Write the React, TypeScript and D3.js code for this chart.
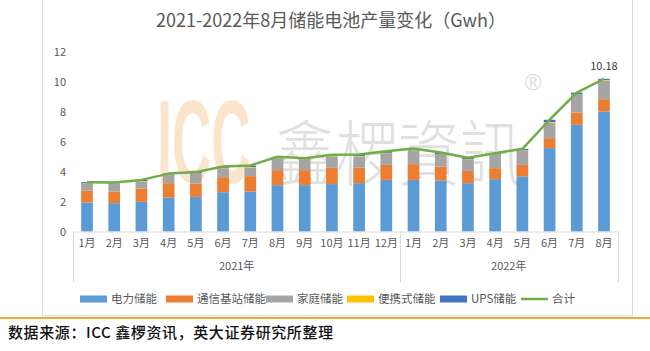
import React from "react";
import * as d3 from "d3";

// 2021.1 - 2022.8, GWh
const months = ["1月", "2月", "3月", "4月", "5月", "6月", "7月", "8月", "9月", "10月", "11月", "12月", "1月", "2月", "3月", "4月", "5月", "6月", "7月", "8月"];
const years = [
  { label: "2021年", from: 0, to: 12 },
  { label: "2022年", from: 12, to: 20 },
];

const power = [1.93, 1.89, 1.98, 2.27, 2.31, 2.62, 2.67, 3.09, 3.09, 3.16, 3.22, 3.44, 3.44, 3.4, 3.22, 3.49, 3.67, 5.56, 7.11, 8.0];
const telecom = [0.8, 0.78, 0.89, 0.95, 0.89, 1.0, 1.02, 1.0, 1.0, 1.08, 1.05, 1.0, 1.05, 0.93, 0.82, 0.73, 0.77, 0.66, 0.82, 0.82];
const home = [0.45, 0.51, 0.46, 0.56, 0.64, 0.6, 0.58, 0.8, 0.69, 0.76, 0.73, 0.78, 0.89, 0.78, 0.74, 0.89, 0.94, 1.05, 1.18, 1.25];
const portable = [0.03, 0.03, 0.03, 0.03, 0.03, 0.03, 0.03, 0.03, 0.03, 0.03, 0.03, 0.03, 0.03, 0.03, 0.03, 0.03, 0.03, 0.03, 0.03, 0.03];
const ups = [0.08, 0.05, 0.08, 0.05, 0.09, 0.08, 0.1, 0.06, 0.08, 0.08, 0.1, 0.1, 0.12, 0.12, 0.1, 0.08, 0.1, 0.15, 0.12, 0.08];
const total = [3.29, 3.26, 3.44, 3.86, 3.96, 4.33, 4.4, 4.98, 4.89, 5.11, 5.13, 5.35, 5.53, 5.26, 4.91, 5.22, 5.51, 7.45, 9.26, 10.18];

const yTicks = [0, 2, 4, 6, 8, 10, 12];

const series = [
  { name: "电力储能", values: power, color: "#5B9BD5" },
  { name: "通信基站储能", values: telecom, color: "#ED7D31" },
  { name: "家庭储能", values: home, color: "#A5A5A5" },
  { name: "便携式储能", values: portable, color: "#FFC000" },
  { name: "UPS储能", values: ups, color: "#4472C4" },
];

const W = 650;
const H = 351;
const FONT = "'Noto Sans CJK SC', 'Noto Sans', sans-serif";
const TXT = "#595959";

export default function App() {
  const left = 73.4;
  const right = 617.6;
  const top = 51.5;
  const bottom = 231.5;

  const idx = months.map((_, i) => i);
  const x = d3.scaleBand<number>().domain(idx).range([left, right]).paddingInner(0.57).paddingOuter(0.285);
  const y = d3.scaleLinear().domain([0, 12]).range([bottom, top]);

  const stack = d3
    .stack<number>()
    .keys(series.map((s) => s.name))
    .value((i, key) => series.find((s) => s.name === key)!.values[i]);
  const layers = stack(idx);

  const cx = (i: number) => (x(i) as number) + x.bandwidth() / 2;
  const line = d3
    .line<number>()
    .x((i) => cx(i))
    .y((i) => y(total[i]));

  const last = total.length - 1;

  // legend layout
  const legendItems = [...series.map((s) => ({ name: s.name, color: s.color, line: false })), { name: "合计", color: "#70AD47", line: true }];
  const legendX = [80, 166, 266, 347, 440, 521];

  return (
    <svg width={W} height={H} style={{ position: "absolute", left: 0, top: 0, background: "#fff" }}>
      <rect x={0} y={0} width={W} height={H} fill="#fff" />
      <rect x={42.5} y={-1} width={590} height={317} fill="none" stroke="#D9D9D9" />

      <text x={331} y={27} textAnchor="middle" fontFamily={FONT} fontSize={18} fill={TXT}>
        2021-2022年8月储能电池产量变化（Gwh）
      </text>

      {/* watermark */}
      <g opacity={0.75}>
        <text transform="translate(157,183) scale(0.46,1)" fontFamily="'Liberation Sans', Arial, sans-serif" fontWeight="bold" fontSize={118} fill="#F9DDBB">
          ICC
        </text>
        <text transform="translate(274,180) scale(0.86,1)" fontFamily="'Noto Sans CJK TC', sans-serif" fontWeight={300} fontSize={72} fill="#D6D6D6">
          鑫椤資訊
        </text>
        <text x={524} y={90} fontFamily="'Noto Sans', sans-serif" fontSize={22} fill="#D6D6D6">
          ®
        </text>
      </g>

      {/* y axis labels */}
      {yTicks.map((t) => (
        <text key={t} x={66} y={y(t) + 4} textAnchor="end" fontFamily={FONT} fontSize={11} fill={TXT}>
          {t}
        </text>
      ))}

      {/* stacked bars */}
      {layers.map((layer, si) => (
        <g key={series[si].name} fill={series[si].color}>
          {layer.map((d, i) => (
            <rect key={i} x={x(i)} y={y(d[1])} width={x.bandwidth()} height={Math.max(0, y(d[0]) - y(d[1]))} />
          ))}
        </g>
      ))}

      {/* category axis */}
      <line x1={left} x2={right} y1={bottom + 0.5} y2={bottom + 0.5} stroke="#D9D9D9" />
      {[0, 12, 20].map((k) => {
        const xx = Math.round(left + (right - left) * (k / months.length)) + 0.5;
        return <line key={k} x1={xx} x2={xx} y1={bottom} y2={282} stroke="#D9D9D9" />;
      })}
      {months.map((m, i) => (
        <text key={i} x={cx(i)} y={247} textAnchor="middle" fontFamily={FONT} fontSize={11} fill={TXT}>
          {m}
        </text>
      ))}
      {years.map((yr) => (
        <text
          key={yr.label}
          x={(cx(yr.from) + cx(yr.to - 1)) / 2}
          y={270}
          textAnchor="middle"
          fontFamily={FONT}
          fontSize={11}
          fill={TXT}
        >
          {yr.label}
        </text>
      ))}

      {/* total line */}
      <path d={line(idx) ?? ""} fill="none" stroke="#70AD47" strokeWidth={2.5} strokeLinejoin="round" />
      <text x={cx(last)} y={y(total[last]) - 9} textAnchor="middle" fontFamily={FONT} fontSize={11} fill="#404040">
        {total[last].toFixed(2)}
      </text>

      {/* legend */}
      {legendItems.map((it, i) => (
        <g key={it.name} transform={`translate(${legendX[i]},299)`}>
          {it.line ? (
            <line x1={0} x2={27} y1={0} y2={0} stroke={it.color} strokeWidth={2.5} />
          ) : (
            <rect x={0} y={-3.5} width={27} height={7} fill={it.color} />
          )}
          <text x={31} y={4} fontFamily={FONT} fontSize={11.5} fill={TXT}>
            {it.name}
          </text>
        </g>
      ))}

      <line x1={0} x2={W} y1={318} y2={318} stroke="#F2A93B" strokeWidth={2} />
      <text x={8} y={338} fontFamily={FONT} fontSize={15} fontWeight={500} fill="#111" letterSpacing={0.6}>
        数据来源：ICC 鑫椤资讯，英大证券研究所整理
      </text>
    </svg>
  );
}
